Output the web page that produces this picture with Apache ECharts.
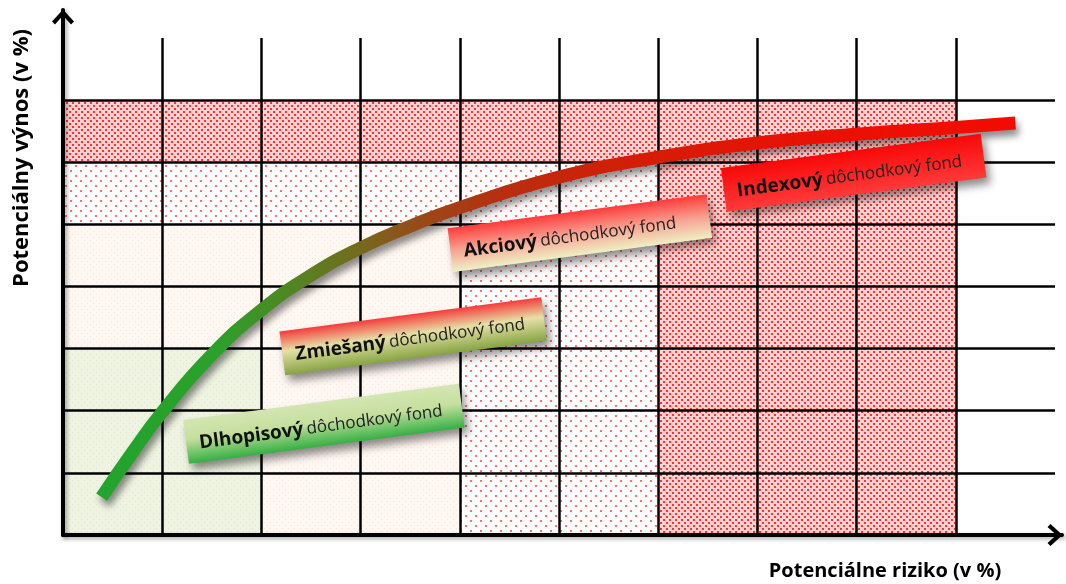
<!DOCTYPE html>
<html>
<head>
<meta charset="utf-8">
<title>Dôchodkové fondy</title>
<script src="https://cdn.jsdelivr.net/npm/echarts@6/dist/echarts.min.js"></script>
<style>
  html, body { margin: 0; padding: 0; background: #fff; }
  #myChart { width: 1066px; height: 584px; }
</style>
</head>
<body>
<div id="myChart"></div>
<script>
  // mriežka
  var xTicks = [1, 2, 3, 4, 5, 6, 7, 8, 9];
  var yTicks = [1, 2, 3, 4, 5, 6, 7];
  var xMax = 10, yMax = 8;

  // zóny [x0, y0, x1, y1]
  var zoneGreen = [[0, 0, 2, 3]];
  var zoneBeige = [[2, 0, 4, 3], [0, 3, 4, 5]];
  var zoneLight = [[0, 5, 6, 6], [4, 0, 6, 5]];
  var zoneDense = [[0, 6, 9, 7], [6, 0, 9, 6]];

  // krivka riziko / výnos
  var curveX = [0.39, 0.7, 1.0, 1.5, 2.0, 2.5, 3.0, 3.5, 4.0, 5.0, 6.0, 7.0, 8.0, 9.0, 9.6];
  var curveY = [0.61, 1.33, 1.98, 2.90, 3.62, 4.18, 4.62, 4.97, 5.27, 5.76, 6.08, 6.31, 6.45, 6.56, 6.63];

  // fondy
  var fundNames = ['Dlhopisový', 'Zmiešaný', 'Akciový', 'Indexový'];
  var fundX = [2.63, 3.53, 5.21, 7.97];
  var fundY = [1.79, 3.20, 4.86, 5.83];

  var fundColors = [
    [{offset: 0, color: '#d3e6b2'}, {offset: 0.45, color: '#c5df9e'}, {offset: 1, color: '#35b043'}],
    [{offset: 0, color: '#f43c3c'}, {offset: 0.45, color: '#e6e0a6'}, {offset: 1, color: '#86a443'}],
    [{offset: 0, color: '#ff3b3b'}, {offset: 0.5, color: '#f7a090'}, {offset: 1, color: '#eef0c4'}],
    [{offset: 0, color: '#f80808'}, {offset: 1, color: '#ff3a3a'}]
  ];
  var fundW = [278, 264, 261, 262];

  // bodkovaný vzor
  function dots(bg, dot, step, size) {
    var c = document.createElement('canvas');
    c.width = step * 2;
    c.height = step * 2;
    var ctx = c.getContext('2d');
    ctx.fillStyle = bg;
    ctx.fillRect(0, 0, c.width, c.height);
    ctx.fillStyle = dot;
    ctx.fillRect(0, 0, size, size);
    ctx.fillRect(step, step, size, size);
    return {image: c, repeat: 'repeat'};
  }

  function areaData(list) {
    return list.map(function (r) {
      return [{coord: [r[0], r[1]]}, {coord: [r[2], r[3]]}];
    });
  }

  function zoneSeries(list, pattern) {
    return {
      type: 'line',
      data: [],
      silent: true,
      markArea: {
        silent: true,
        z: 1,
        itemStyle: {color: pattern, borderWidth: 0},
        label: {show: false},
        data: areaData(list)
      }
    };
  }

  var gridLines = [];
  xTicks.forEach(function (x) {
    gridLines.push([{coord: [x, 0]}, {coord: [x, yMax]}]);
  });
  yTicks.forEach(function (y) {
    gridLines.push([{coord: [0, y]}, {coord: [xMax, y]}]);
  });

  var arrow = 'path://M11,0 L22,12 L19,15 L11,6 L3,15 L0,12 Z';

  var axisLine = {
    show: true,
    symbol: ['none', arrow],
    symbolSize: [22, 16],
    symbolOffset: [0, -7],
    lineStyle: {
      color: '#000',
      width: 4,
      shadowColor: 'rgba(0,0,0,0.35)',
      shadowBlur: 4,
      shadowOffsetX: 2,
      shadowOffsetY: 2
    }
  };

  var option = {
    animation: false,
    grid: {left: 63, right: 4, top: 10, bottom: 49, containLabel: false},
    xAxis: {
      type: 'value', min: 0, max: 10.07, interval: 1, z: 10,
      axisLine: axisLine,
      axisTick: {show: false}, axisLabel: {show: false}, splitLine: {show: false}
    },
    yAxis: {
      type: 'value', min: 0, max: 8.45, interval: 1, z: 10,
      axisLine: axisLine,
      axisTick: {show: false}, axisLabel: {show: false}, splitLine: {show: false}
    },
    series: [
      zoneSeries(zoneGreen, dots('#eef3e2', '#dce8c6', 3, 1)),
      zoneSeries(zoneBeige, dots('#fef7f2', '#fbe3d6', 3, 1)),
      zoneSeries(zoneLight, dots('#ffffff', '#ff7070', 5, 2)),
      zoneSeries(zoneDense, dots('#fcd2d2', '#ff3030', 3, 2)),
      {
        type: 'line',
        data: [],
        silent: true,
        markLine: {
          silent: true,
          z: 3,
          symbol: ['none', 'none'],
          label: {show: false},
          lineStyle: {color: '#000', width: 2.5, type: 'solid'},
          data: gridLines
        }
      },
      {
        type: 'line',
        z: 8,
        smooth: true,
        showSymbol: false,
        silent: true,
        data: curveX.map(function (x, i) { return [x, curveY[i]]; }),
        lineStyle: {
          width: 13,
          cap: 'butt',
          color: new echarts.graphic.LinearGradient(0, 0, 1, 0, [
            {offset: 0, color: '#22a42d'},
            {offset: 0.13, color: '#2aa12b'},
            {offset: 0.2, color: '#4b8a22'},
            {offset: 0.27, color: '#6e701e'},
            {offset: 0.35, color: '#984a18'},
            {offset: 0.43, color: '#b5300f'},
            {offset: 0.55, color: '#cf2008'},
            {offset: 0.72, color: '#e41405'},
            {offset: 1, color: '#f50a00'}
          ]),
          shadowColor: 'rgba(0,0,0,0.45)',
          shadowBlur: 7,
          shadowOffsetX: 3,
          shadowOffsetY: 6
        }
      }
    ]
  };

  var myChart = echarts.init(document.getElementById('myChart'));
  myChart.setOption(option);

  // popisky fondov a názvy osí
  var graphics = [
    {
      type: 'text', x: 22, y: 158, rotation: Math.PI / 2, z: 100,
      style: {text: 'Potenciálny výnos (v %)', font: 'bold 22px "Open Sans"', fill: '#000', align: 'center', verticalAlign: 'middle'}
    },
    {
      type: 'text', x: 885, y: 571, z: 100,
      style: {text: 'Potenciálne riziko (v %)', font: 'bold 20px "Open Sans"', fill: '#000', align: 'center', verticalAlign: 'middle'}
    }
  ];
  for (var i = 0; i < fundNames.length; i++) {
    var p = myChart.convertToPixel({gridIndex: 0}, [fundX[i], fundY[i]]);
    var w = fundW[i], h = 44;
    graphics.push({
      type: 'group', x: p[0], y: p[1], rotation: 7.5 * Math.PI / 180, z: 100,
      children: [
        {
          type: 'rect', z: 100,
          shape: {x: -w / 2, y: -h / 2, width: w, height: h},
          style: {
            fill: new echarts.graphic.LinearGradient(0, 0, 0, 1, fundColors[i]),
            shadowColor: 'rgba(0,0,0,0.45)', shadowBlur: 8, shadowOffsetX: 4, shadowOffsetY: 6
          }
        },
        {
          type: 'text', z: 101,
          style: {
            x: -w / 2 + 13, y: 3,
            text: '{b|' + fundNames[i] + '} {r|dôchodkový fond}',
            verticalAlign: 'middle',
            fill: '#1a1a1a',
            rich: {
              b: {font: 'bold 19px "Open Sans"', fill: '#111', color: '#111'},
              r: {font: '17px "Open Sans"', fill: '#222', color: '#222'}
            }
          }
        }
      ]
    });
  }
  myChart.setOption({graphic: graphics});
</script>
</body>
</html>
